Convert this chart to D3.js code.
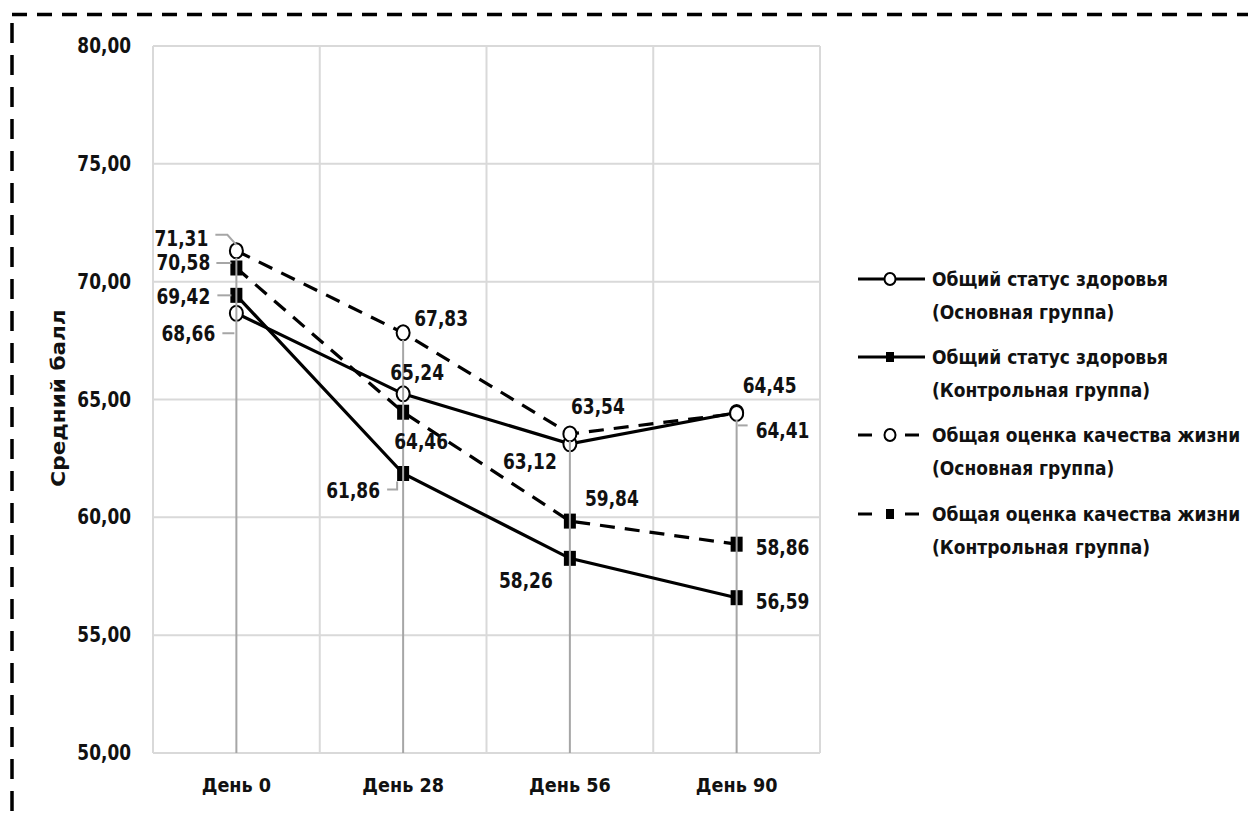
<!DOCTYPE html>
<html><head><meta charset="utf-8">
<script src="https://cdn.jsdelivr.net/npm/d3@7"></script>
<style>
body{margin:0;background:#fff;}
svg text{font-family:"DejaVu Sans Condensed","Liberation Sans Narrow","Open Sans",sans-serif;font-weight:bold;fill:#111;}
</style></head>
<body><svg id="c" width="1248" height="816"></svg>
<script>
// Visit days and y-axis ticks
const days = ["День 0", "День 28", "День 56", "День 90"];
const yTicks = [50, 55, 60, 65, 70, 75, 80];

// Mean scores per series
const healthMain    = [68.66, 65.24, 63.12, 64.45];
const healthControl = [69.42, 61.86, 58.26, 56.59];
const qolMain       = [71.31, 67.83, 63.54, 64.41];
const qolControl    = [70.58, 64.46, 59.84, 58.86];

const seriesNames = [
  ["Общий статус здоровья", "(Основная группа)"],
  ["Общий статус здоровья", "(Контрольная группа)"],
  ["Общая оценка качества жизни", "(Основная группа)"],
  ["Общая оценка качества жизни", "(Контрольная группа)"]
];

const fmt = v => v.toFixed(2).replace(".", ",");

const svg = d3.select("#c");
const x = d3.scaleBand().domain(days).range([153, 820]);
const y = d3.scaleLinear().domain([50, 80]).range([753, 46]);

// text helper with horizontal squeeze
function label(sel, px, py, txt, size, sx, anchor) {
  return sel.append("text")
    .attr("transform", `translate(${px},${py}) scale(${sx},1)`)
    .attr("text-anchor", anchor || "start")
    .attr("font-size", size).text(txt);
}

// dashed frame around the figure
svg.append("line").attr("x1", 12).attr("x2", 1260).attr("y1", 14.5).attr("y2", 14.5)
  .attr("stroke", "#000").attr("stroke-width", 3.5).attr("stroke-dasharray", "15,10");
svg.append("line").attr("x1", 12).attr("x2", 12).attr("y1", 23).attr("y2", 830)
  .attr("stroke", "#000").attr("stroke-width", 3.5).attr("stroke-dasharray", "20,12");

// gridlines
const g = svg.append("g");
g.selectAll(".hg").data(yTicks).join("line")
  .attr("x1", 153).attr("x2", 820).attr("y1", d => y(d)).attr("y2", d => y(d))
  .attr("stroke", "#d9d9d9").attr("stroke-width", 2);
const bounds = days.map(d => x(d)).concat([x.range()[1]]);
g.selectAll(".vg").data(bounds).join("line")
  .attr("x1", d => d).attr("x2", d => d).attr("y1", 46).attr("y2", 753)
  .attr("stroke", "#d9d9d9").attr("stroke-width", 2);

// y tick labels
const yl = svg.append("g");
yTicks.forEach(t => label(yl, 131, y(t) + 7, fmt(t), 20.5, 0.92, "end"));

// x labels
const cx = d => x(d) + x.bandwidth() / 2;
const xl = svg.append("g");
days.forEach(d => label(xl, cx(d), 792, d, 20, 0.98, "middle"));

// y title
svg.append("text").attr("transform", "translate(65,398) rotate(-90) scale(1.2,1)")
  .attr("text-anchor", "middle").attr("font-size", 20).text("Средний балл");

const series = [
  { v: healthMain, dash: null, mk: "circle" },
  { v: healthControl, dash: null, mk: "square" },
  { v: qolMain, dash: "15,10", mk: "circle" },
  { v: qolControl, dash: "15,10", mk: "square" }
];

const line = d3.line().x((v, i) => cx(days[i])).y(v => y(v));
series.forEach(s => {
  svg.append("path").attr("d", line(s.v)).attr("fill", "none")
    .attr("stroke", "#000").attr("stroke-width", 3.2)
    .attr("stroke-dasharray", s.dash);
});

function marker(sel, type, px, py, small) {
  if (type === "circle") {
    sel.append("ellipse").attr("cx", px).attr("cy", py)
      .attr("rx", small ? 5.5 : 6.5).attr("ry", small ? 6 : 7.5)
      .attr("fill", "#fff").attr("stroke", "#000").attr("stroke-width", 2);
  } else {
    const w = small ? 8 : 12, h = small ? 10 : 15;
    sel.append("rect").attr("x", px - w / 2).attr("y", py - h / 2).attr("width", w).attr("height", h)
      .attr("fill", "#000");
  }
}

const mk = svg.append("g");
series.forEach(s => s.v.forEach((v, i) => marker(mk, s.mk, cx(days[i]), y(v), false)));

// high-low drop lines from each day's max to the axis
const maxes = days.map((d, i) => d3.max(series, s => s.v[i]));
svg.append("g").selectAll("line").data(days).join("line")
  .attr("x1", d => cx(d)).attr("x2", d => cx(d))
  .attr("y1", (d, i) => y(maxes[i]) + 7).attr("y2", 753)
  .attr("stroke", "#a6a6a6").attr("stroke-width", 2);

// data labels: [series, day, dx, dy(centre), anchor, leader]
const labelPos = [
  [0, 0, -48, 20, "middle", [[-14, 20], [-2, 20]]],
  [0, 1, 14, -22, "middle", null],
  [0, 2, -40, 17, "middle", null],
  [0, 3, 33, -27, "middle", null],
  [1, 0, -53, 1, "middle", [[-19, 0], [-5, 0]]],
  [1, 1, -50, 17, "middle", [[-16, 16], [-6, 16], [-6, 8]]],
  [1, 2, -44, 22, "middle", null],
  [1, 3, 19, 3, "start", null],
  [2, 0, -55, -13, "middle", [[-21, -16], [-9, -16], [0, -6]]],
  [2, 1, 38, -15, "middle", null],
  [2, 2, 28, -28, "middle", null],
  [2, 3, 19, 17, "start", [[1, 12], [11, 12]]],
  [3, 0, -53, -6, "middle", [[-20, -5], [-5, -5]]],
  [3, 1, 18, 29, "middle", null],
  [3, 2, 42, -23, "middle", null],
  [3, 3, 19, 3, "start", null]
];
const lab = svg.append("g");
labelPos.forEach(([si, di, dx, dy, anchor, leader]) => {
  const v = series[si].v[di];
  const px = cx(days[di]), py = y(v);
  if (leader) {
    lab.append("path").attr("d", d3.line()(leader.map(p => [px + p[0], py + p[1]])))
      .attr("fill", "none").attr("stroke", "#a6a6a6").attr("stroke-width", 2);
  }
  label(lab, px + dx, py + dy + 8, fmt(v), 22, 0.86, anchor);
});

// legend
const lg = svg.append("g").attr("transform", "translate(856,0)");
const legY = [279, 357, 435, 514];
series.forEach((s, i) => {
  const yy = legY[i];
  if (s.dash) {
    lg.append("line").attr("x1", 2).attr("x2", 16).attr("y1", yy).attr("y2", yy).attr("stroke", "#000").attr("stroke-width", 3);
    lg.append("line").attr("x1", 49).attr("x2", 63).attr("y1", yy).attr("y2", yy).attr("stroke", "#000").attr("stroke-width", 3);
  } else {
    lg.append("line").attr("x1", 2).attr("x2", 69).attr("y1", yy).attr("y2", yy).attr("stroke", "#000").attr("stroke-width", 3);
  }
  marker(lg, s.mk, 34, yy, true);
  label(lg, 76, yy + 7, seriesNames[i][0], 20, 0.95);
  label(lg, 76, yy + 40, seriesNames[i][1], 20, 0.95);
});
</script></body></html>
